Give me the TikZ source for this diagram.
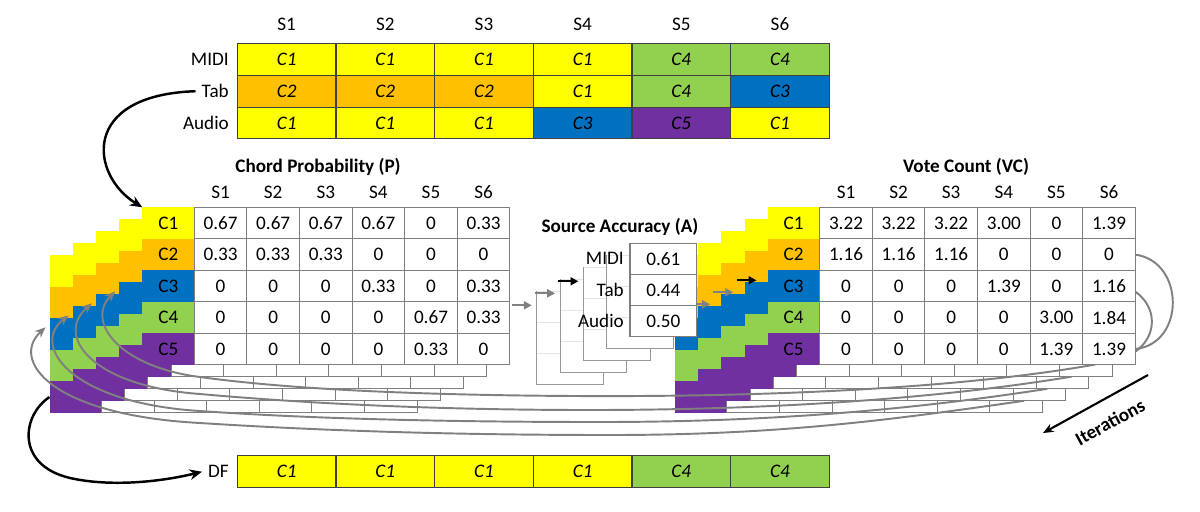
\documentclass[tikz,border=0pt]{standalone}
\usepackage{fontspec}
\setmainfont{Carlito}
\usetikzlibrary{positioning,calc,arrows.meta}

\definecolor{cyellow}{RGB}{255,255,0}
\definecolor{corange}{RGB}{255,192,0}
\definecolor{cblue}{RGB}{0,112,192}
\definecolor{cgreen}{RGB}{146,208,80}
\definecolor{cpurple}{RGB}{112,48,160}
\definecolor{gridgray}{RGB}{127,127,127}
\definecolor{loopgray}{RGB}{128,128,128}
\newcommand{\basefont}{\fontsize{10.9}{13}\selectfont}

\tikzset{
  vcell/.style={draw=gridgray, line width=0.6pt, fill=white, minimum width=1.052cm, minimum height=0.63cm, inner sep=0pt, outer sep=0pt, anchor=north west},
  clab/.style={minimum width=1.04cm, minimum height=0.63cm, inner sep=0pt, outer sep=0pt, anchor=north west},
  acell/.style={draw=gridgray, line width=0.6pt, fill=white, minimum width=1.334cm, minimum height=0.622cm, inner sep=0pt, outer sep=0pt, anchor=north west},
  acopy/.style={acell, draw=gray!20},
  srccell/.style={draw=black!75, line width=0.6pt, minimum width=1.9734cm, minimum height=0.636cm, inner sep=0pt, outer sep=0pt, anchor=north west, font=\basefont\itshape},
  hdr/.style={inner sep=1.5pt},
  ttl/.style={font=\basefont\bfseries},
  fwd/.style={draw=loopgray, line width=1.1pt, -{Triangle[length=4.5pt,width=4.5pt]}},
  cur/.style={fwd, draw=black},
  loopline/.style={draw=loopgray, line width=1.1pt, -{Stealth[length=6pt,width=5pt]}},
  bigarrow/.style={draw=black, line width=1.4pt, -{Stealth[length=7pt,width=6pt]}}
}

% one copy of a chord table: coloured label column and 5x6 empty cells
\newcommand{\cgrid}[3]{%
  \foreach \ri/\cl in {1/cyellow,2/corange,3/cblue,4/cgreen,5/cpurple}
    \node[clab, fill=\cl] (#3-l\ri) at ({#1}, {#2+31.5*(\ri-1)}) {};
  \foreach \ri in {1,...,5}
    \foreach \ci in {1,...,6}
      \node[vcell] (#3-c\ri\ci) at ({#1+52+52.6*(\ci-1)}, {#2+31.5*(\ri-1)}) {};
}
% one copy of the accuracy column
\newcommand{\accgrid}[4]{%
  \foreach \ri in {1,2,3}
    \node[#4] (#3-\ri) at ({#1}, {#2+31.1*(\ri-1)}) {};
}

\begin{document}
\begin{tikzpicture}[x=0.02cm, y=-0.02cm, font=\basefont]
\useasboundingbox (0,0) rectangle (1200,511);

% sources table
\foreach \s in {1,...,6}
  \node (tops\s) at ({237.3+98.67*(\s-0.5)}, 24) {S\s};
\foreach \ri/\lab/\cells in {1/MIDI/{C1/cyellow,C1/cyellow,C1/cyellow,C1/cyellow,C4/cgreen,C4/cgreen},
    2/Tab/{C2/corange,C2/corange,C2/corange,C1/cyellow,C4/cgreen,C3/cblue},
    3/Audio/{C1/cyellow,C1/cyellow,C1/cyellow,C3/cblue,C5/cpurple,C1/cyellow}}{
  \node[anchor=east] (src\ri) at (235, {43.5+31.8*(\ri-0.5)}) {\lab};
  \foreach \t/\cl [count=\ci] in \cells
    \node[srccell, fill=\cl] (src\ri-\ci) at ({237.3+98.67*(\ci-1)}, {43.5+31.8*(\ri-1)}) {\t};
}

% DF row
\node[anchor=east] (df) at (235,471.7) {DF};
\foreach \t/\cl [count=\ci] in {C1/cyellow,C1/cyellow,C1/cyellow,C1/cyellow,C4/cgreen,C4/cgreen}
  \node[srccell, minimum height=0.64cm, fill=\cl] (df-\ci) at ({237.3+98.67*(\ci-1)}, 455.7) {\t};

% chord probability stack
\foreach \k in {4,3,2,1}{
  \cgrid{142.3-23.2*\k}{207.3+12*\k}{P\k}
}
\cgrid{142.3}{207.3}{P0}
\foreach \ri/\vals in {1/{0.67,0.67,0.67,0.67,0,0.33},2/{0.33,0.33,0.33,0,0,0},3/{0,0,0,0.33,0,0.33},4/{0,0,0,0,0.67,0.33},5/{0,0,0,0,0.33,0}}{
  \node (P0-t\ri) at (P0-l\ri) {C\ri};
  \foreach \v [count=\ci] in \vals
    \node (P0-v\ri\ci) at (P0-c\ri\ci) {\v};
}
\foreach \ci in {1,...,6}
  \node[hdr, above=3.3pt of P0-c1\ci] (P0-s\ci) {S\ci};
\node[ttl] (ptitle) at (318,167) {Chord Probability (P)};
\foreach \k in {1,...,4}
  \coordinate (pin\k) at ($(P\k-l3.north west)+(-4,9)$);

% source accuracy copies
\foreach \k in {4,3,2,1}{
  \accgrid{630-23.3*\k}{243.3+12*\k}{A\k}{acopy}
  \draw[gridgray!80, line width=0.6pt] (A\k-1.north west) -- (A\k-3.south west) -- (A\k-3.south east) -- (A\k-1.north east);
}
\draw[fwd] ($(A4-1.north west)+(-25,14)$) -- ($(A4-1.north west)+(-5,14)$);
\draw[fwd] ($(A3-1.north west)+(-25,14)$) -- ($(A3-1.north west)+(-5,14)$);
\draw[cur] ($(A2-1.north west)+(-25,14)$) -- ($(A2-1.north west)+(-5,14)$);

% vote count stack, loops drawn between the copies
\coordinate (vtop0) at (1135.3,254.6);
\coordinate (vbot0) at (1135.3,349.0);
\coordinate (vtop1) at (1112.1,282.3);
\coordinate (vbot1) at (1112.1,361.0);
\coordinate (vout0) at (1093.7,364.8);
\coordinate (vout1) at (1070.5,376.8);
\coordinate (vout2) at (1047.3,388.8);
\coordinate (vout3) at (1024.1,400.8);

\cgrid{674.9}{255.3}{V4}
\draw[loopline] (vout3) .. controls (890,420) and (780,435) .. (610,435) .. controls (440,435) and (310,430) .. (200,423) .. controls (50,415) and (10,360) .. (pin4);
\cgrid{698.1}{243.3}{V3}
\draw[loopline] (vout2) .. controls (910,410) and (770,422) .. (600,422) .. controls (430,422) and (300,418) .. (200,411) .. controls (70,403) and (30,345) .. (pin3);
\cgrid{721.3}{231.3}{V2}
\draw[loopline] (vtop1) .. controls +(53,10) and +(53,-10) .. (vbot1) -- (vout1) .. controls (930,400) and (760,410) .. (590,410) .. controls (420,410) and (290,402) .. (200,394) .. controls (90,386) and (55,335) .. (pin2);
\cgrid{744.5}{219.3}{V1}
\draw[loopline] (vtop0) .. controls +(50,7) and +(50,-5) .. (vbot0) -- (vout0) .. controls (950,390) and (750,397) .. (575,396) .. controls (400,395) and (280,388) .. (200,377) .. controls (120,367) and (85,322) .. (pin1);
\cgrid{767.7}{207.3}{V0}
\foreach \ri/\vals in {1/{3.22,3.22,3.22,3.00,0,1.39},2/{1.16,1.16,1.16,0,0,0},3/{0,0,0,1.39,0,1.16},4/{0,0,0,0,3.00,1.84},5/{0,0,0,0,1.39,1.39}}{
  \node (V0-t\ri) at (V0-l\ri) {C\ri};
  \foreach \v [count=\ci] in \vals
    \node (V0-v\ri\ci) at (V0-c\ri\ci) {\v};
}
\foreach \ci in {1,...,6}
  \node[hdr, above=3.3pt of V0-c1\ci] (V0-s\ci) {S\ci};
\node[ttl] (vtitle) at (966,167) {Vote Count (VC)};

\draw[fwd] ($(V3-l1.north west)+(-8,61)$) -- ($(V3-l1.north west)+(12,61)$);
\draw[fwd] ($(V2-l1.north west)+(-8,61)$) -- ($(V2-l1.north west)+(12,61)$);
\draw[cur] ($(V1-l1.north west)+(-8,61)$) -- ($(V1-l1.north west)+(12,61)$);

% source accuracy, front
\accgrid{630}{243.3}{A0}{acell}
\foreach \lab/\v [count=\ri] in {MIDI/0.61,Tab/0.44,Audio/0.50}{
  \node (A0-v\ri) at (A0-\ri) {\v};
  \node[left=0pt of A0-\ri] (A0-n\ri) {\lab};
}
\node[ttl] (atitle) at (620,227) {Source Accuracy (A)};

% iterations
\coordinate (itA) at (1148,375);
\coordinate (itB) at (1043,433);
\draw[draw=black, line width=1.2pt, -{Stealth[length=6pt,width=5pt]}] (itA) -- (itB);
\node[ttl, rotate=29] (iter) at (1110,422) {Iterations};

% input and output arrows
\draw[bigarrow] (src2.west) .. controls (80,95) and (90,175) .. (P0-l1.north west);
\draw[bigarrow] (P4-l5.west) .. controls (22,415) and (15,465) .. (70,478) .. controls (110,487) and (160,482) .. (df.west);
\end{tikzpicture}
\end{document}
